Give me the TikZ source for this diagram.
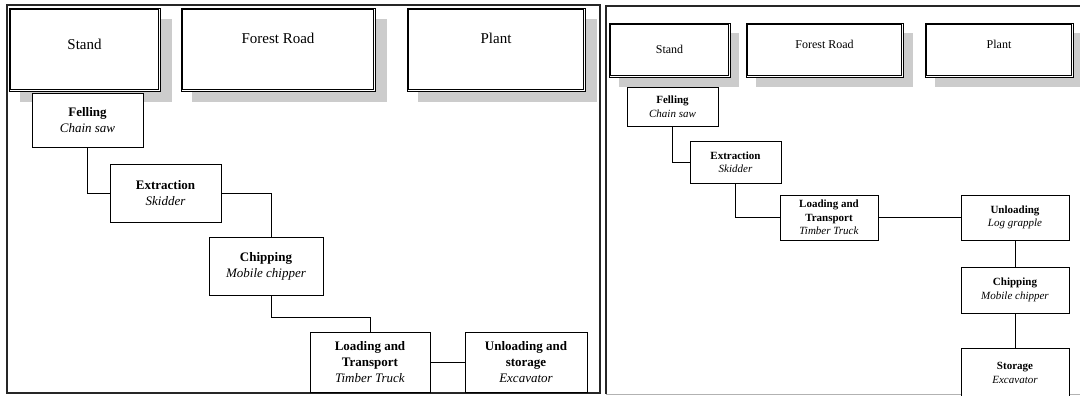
\documentclass[tikz,border=0pt]{standalone}
\usepackage{fontspec}
\setmainfont{Liberation Serif}
\begin{document}
\begin{tikzpicture}[x=1pt,y=-1pt,
  hdr/.style={draw=black, line width=0.7pt, fill=white, inner sep=0pt, text height=10pt},
  inner/.style={draw=black, line width=0.7pt},
  shadowbox/.style={fill=black!20, draw=none},
  proc/.style={draw=black, line width=0.8pt, fill=white, inner sep=0pt, align=center},
  lproc/.style={proc, font=\fontsize{13}{16}\selectfont},
  rproc/.style={proc, font=\fontsize{11}{13.5}\selectfont},
  conn/.style={draw=black, line width=0.8pt},
  panel/.style={draw=black!85, line width=1.2pt}
]
\useasboundingbox (0,0) rectangle (1080,396);
\clip (0,0) rectangle (1080,396);

% panels
\draw[panel] (7,5) rectangle (600,393);
\draw[panel] (1090,6) -- (606,6) -- (606,394);
\draw[draw=black!30, line width=1pt] (606,394.5) -- (1090,394.5);

% ---------- left panel headers ----------
\fill[shadowbox] (20,19) rectangle (172,102);
\fill[shadowbox] (192,19) rectangle (387,102);
\fill[shadowbox] (418,19) rectangle (597,102);
\node[hdr, minimum width=151pt, minimum height=83pt, font=\fontsize{15}{18}\selectfont, text depth=9pt] (lstand) at (84.5,49.5) {Stand};
\node[hdr, minimum width=194pt, minimum height=83pt, font=\fontsize{15}{18}\selectfont, text depth=21pt] (lroad) at (278,49.5) {Forest Road};
\node[hdr, minimum width=178pt, minimum height=83pt, font=\fontsize{15}{18}\selectfont, text depth=21pt] (lplant) at (496,49.5) {Plant};

% ---------- left panel processes ----------
\node[lproc, minimum width=111pt, minimum height=54pt] (lfell) at (87.5,120) {\textbf{Felling}\\\textit{Chain saw}};
\node[lproc, minimum width=111pt, minimum height=58pt] (lext) at (165.5,193) {\textbf{Extraction}\\\textit{Skidder}};
\node[lproc, minimum width=114pt, minimum height=58pt] (lchip) at (266,266) {\textbf{Chipping}\\\textit{Mobile chipper}};
\node[lproc, minimum width=120pt, minimum height=60pt] (lload) at (370,362) {\textbf{Loading and}\\\textbf{Transport}\\\textit{Timber Truck}};
\node[lproc, minimum width=122pt, minimum height=60pt] (lunl) at (526,362) {\textbf{Unloading and}\\\textbf{storage}\\\textit{Excavator}};

\draw[conn] (lfell.south) |- (lext.west);
\draw[conn] (lext.east) -| ([xshift=5pt]lchip.north);
\draw[conn] ([xshift=5pt]lchip.south) -- ++(0,22) -| (lload.north);
\draw[conn] (lload.east) -- (lunl.west);

% ---------- right panel headers ----------
\fill[shadowbox] (619,33) rectangle (739,87);
\fill[shadowbox] (756,33) rectangle (913,87);
\fill[shadowbox] (935,33) rectangle (1083,87);
\node[hdr, minimum width=121pt, minimum height=54pt, font=\fontsize{12}{14}\selectfont, text height=8pt, text depth=0pt] (rstand) at (669.5,50) {Stand};
\node[hdr, minimum width=157pt, minimum height=54pt, font=\fontsize{12}{14}\selectfont, text height=8pt, text depth=10pt] (rroad) at (824.5,50) {Forest Road};
\node[hdr, minimum width=148pt, minimum height=54pt, font=\fontsize{12}{14}\selectfont, text height=8pt, text depth=10pt] (rplant) at (999,50) {Plant};

% inner line of the double borders
\foreach \n in {lstand,lroad,lplant,rstand,rroad,rplant}
  \draw[inner] ([xshift=2pt,yshift=-2pt]\n.north west) rectangle ([xshift=-2pt,yshift=2pt]\n.south east);

% ---------- right panel processes ----------
\node[rproc, minimum width=91pt, minimum height=39pt] (rfell) at (672.5,106.5) {\textbf{Felling}\\\textit{Chain saw}};
\node[rproc, minimum width=91pt, minimum height=42pt] (rext) at (735.5,162) {\textbf{Extraction}\\\textit{Skidder}};
\node[rproc, minimum width=98pt, minimum height=45pt] (rload) at (829,217.5) {\textbf{Loading and}\\\textbf{Transport}\\\textit{Timber Truck}};
\node[rproc, minimum width=108pt, minimum height=45pt] (runl) at (1015,217.5) {\textbf{Unloading}\\\textit{Log grapple}};
\node[rproc, minimum width=108pt, minimum height=46pt] (rchip) at (1015,290) {\textbf{Chipping}\\\textit{Mobile chipper}};
\node[rproc, minimum width=108pt, minimum height=50pt] (rstor) at (1015,373) {\textbf{Storage}\\\textit{Excavator}};

\draw[conn] (rfell.south) |- (rext.west);
\draw[conn] (rext.south) |- (rload.west);
\draw[conn] (rload.east) -- (runl.west);
\draw[conn] (runl.south) -- (rchip.north);
\draw[conn] (rchip.south) -- (rstor.north);
\end{tikzpicture}
\end{document}
